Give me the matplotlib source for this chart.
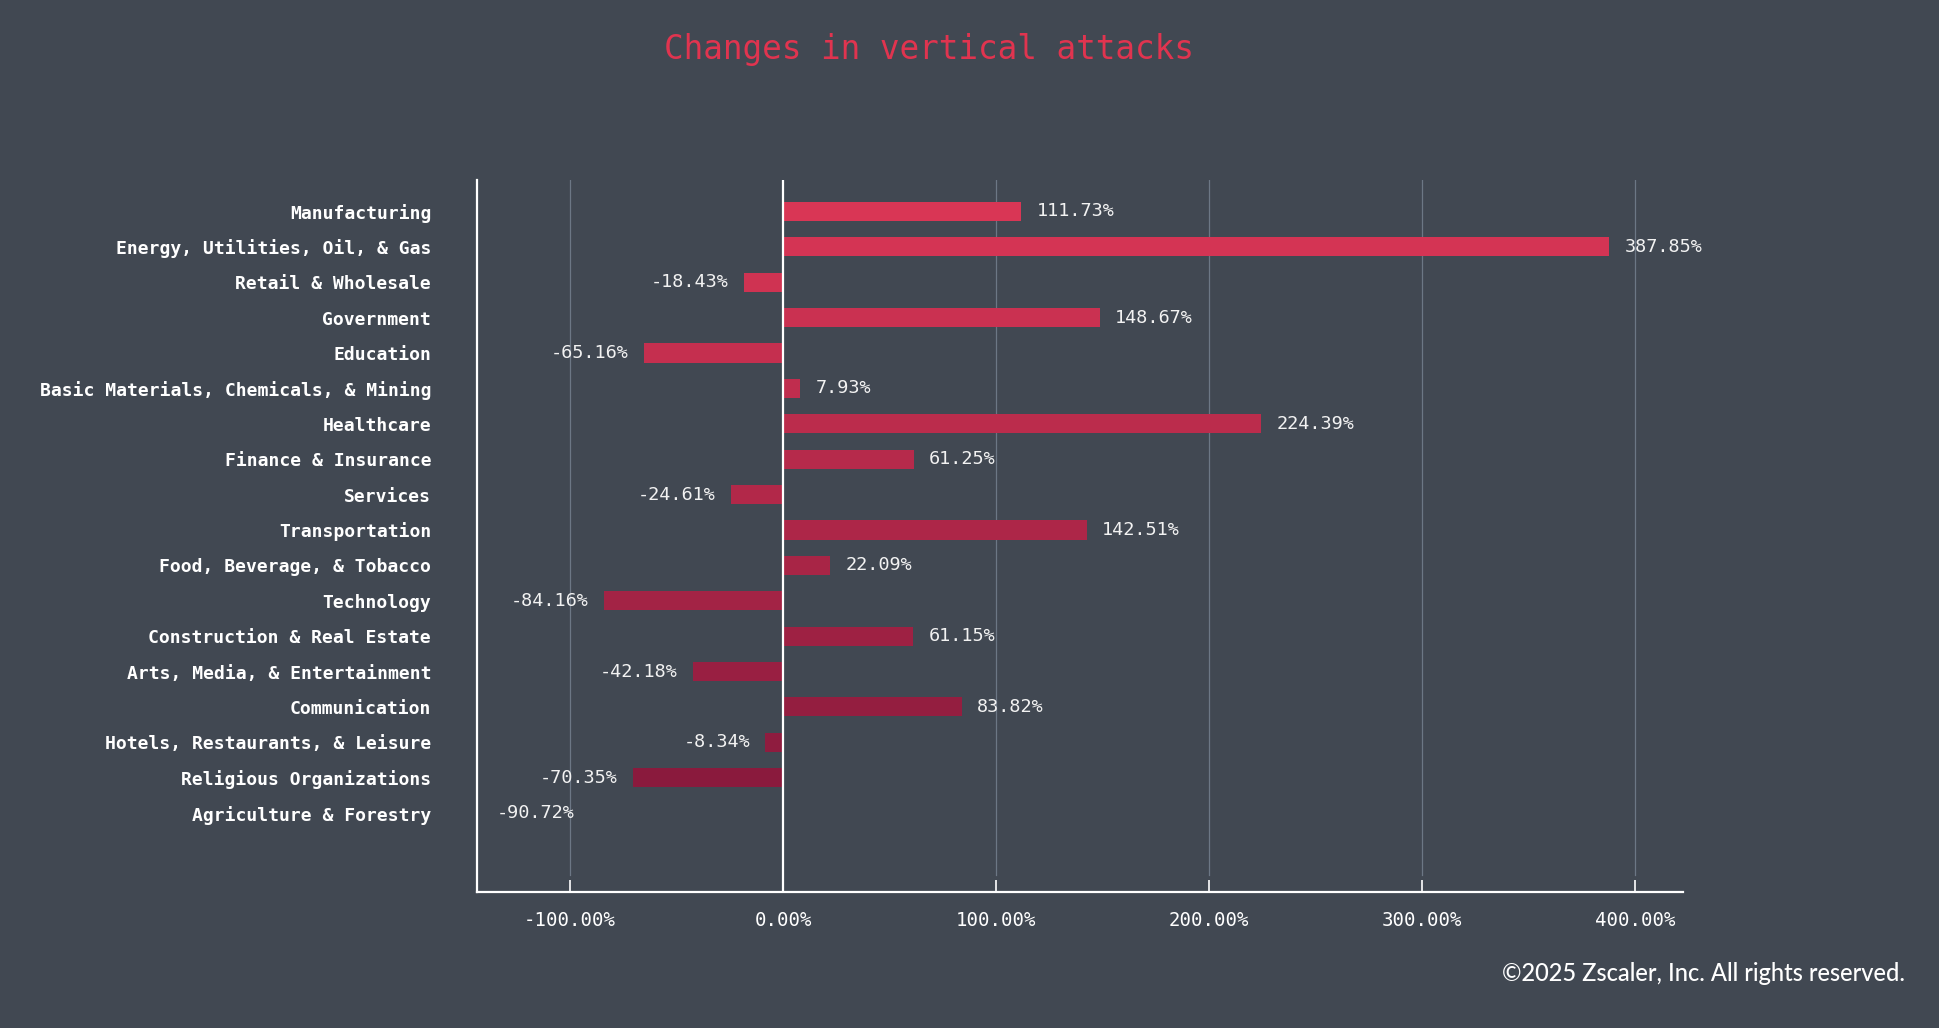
import numpy as np
import matplotlib
matplotlib.use('Agg')
import matplotlib.pyplot as plt
from matplotlib.colors import to_rgb
from matplotlib.ticker import FuncFormatter

categories = ['Manufacturing', 'Energy, Utilities, Oil, & Gas', 'Retail & Wholesale',
              'Government', 'Education', 'Basic Materials, Chemicals, & Mining',
              'Healthcare', 'Finance & Insurance', 'Services', 'Transportation',
              'Food, Beverage, & Tobacco', 'Technology', 'Construction & Real Estate',
              'Arts, Media, & Entertainment', 'Communication',
              'Hotels, Restaurants, & Leisure', 'Religious Organizations',
              'Agriculture & Forestry']
changes = [111.73, 387.85, -18.43, 148.67, -65.16, 7.93, 224.39, 61.25, -24.61,
           142.51, 22.09, -84.16, 61.15, -42.18, 83.82, -8.34, -70.35, -90.72]
xticks = [-100, 0, 100, 200, 300, 400]

bg = '#414852'
top_col = np.array(to_rgb('#d93655'))
bot_col = np.array(to_rgb('#8a1a3d'))
n = len(categories)
colors = [tuple(top_col + (bot_col - top_col) * i / (n - 2)) for i in range(n - 1)]
colors.append(bg)  # last bar is not visible in the original

fig = plt.figure(figsize=(19.4, 10.28), dpi=100, facecolor=bg)
ax = fig.add_axes([0.2459, 0.1323, 0.8675 - 0.2459, 0.8249 - 0.1323])
ax.set_facecolor(bg)

y = np.arange(n)
ax.barh(y, changes, height=0.54, color=colors, zorder=3)

ax.set_xlim(-143.7, 422.5)
ax.set_ylim(n - 1 + 2.23, -0.89)

for x in xticks:
    if x == 0:
        ax.axvline(0, color='white', lw=1.6, zorder=4)
    else:
        ax.axvline(x, ymin=0.024, ymax=1, color='#6c7785', lw=0.9, zorder=1)

ax.set_xticks(xticks)
ax.xaxis.set_major_formatter(FuncFormatter(lambda v, p: f'{v:.2f}%'))
ax.tick_params(axis='x', direction='in', length=9, width=1.2, color='white',
               labelcolor='white', labelsize=13.7, pad=14)
for t in ax.get_xticklabels():
    t.set_family('DejaVu Sans Mono')

ax.set_yticks(y)
ax.set_yticklabels(categories, family='DejaVu Sans Mono', fontweight='bold',
                   fontsize=13, color='white')
ax.tick_params(axis='y', length=0, pad=33)

for s in ['top', 'right']:
    ax.spines[s].set_visible(False)
for s in ['left', 'bottom']:
    ax.spines[s].set_color('white')
    ax.spines[s].set_linewidth(1.6)

for yi, v in zip(y, changes):
    off = 11 if v >= 0 else -11
    ax.annotate(f'{v:.2f}%', (v, yi), xytext=(off, 0), textcoords='offset points',
                ha='left' if v >= 0 else 'right', va='center', color='#f2f2f2',
                fontsize=13.3, family='DejaVu Sans Mono', zorder=5)

fig.text(0.479, 0.952, 'Changes in vertical attacks', ha='center', va='center',
         color='#e0344f', fontsize=23.5, family='DejaVu Sans Mono')
fig.text(0.982, 0.0526, '\u00a92025 Zscaler, Inc. All rights reserved.', ha='right',
         va='center', color='white', fontsize=17, family='Lato', fontweight='medium')

fig.savefig('out.png', dpi=100, facecolor=bg)
